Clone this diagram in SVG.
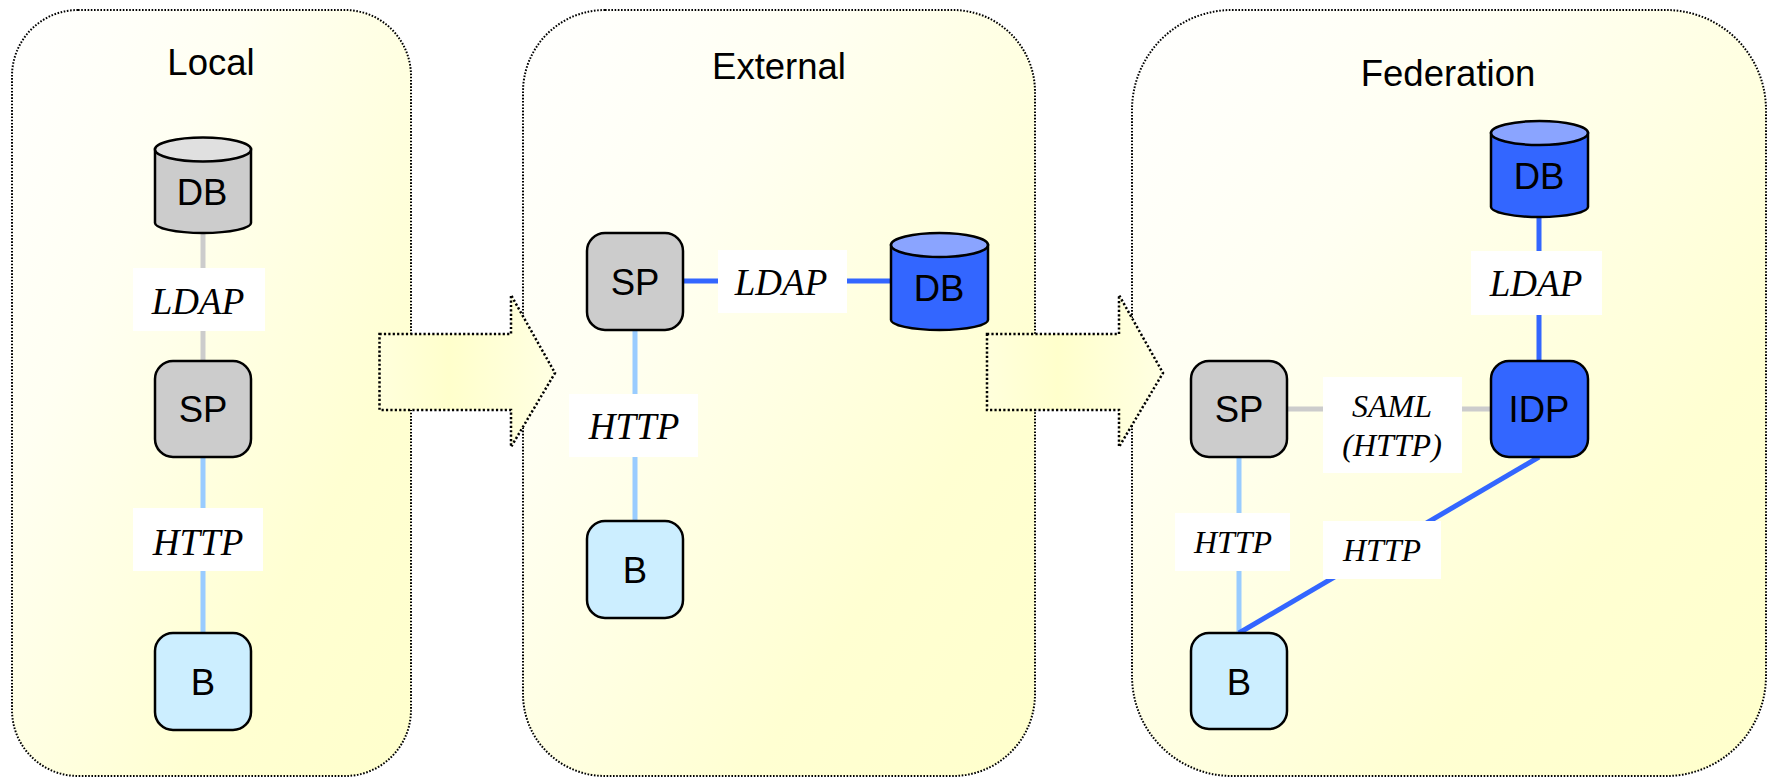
<svg xmlns="http://www.w3.org/2000/svg" width="1771" height="777" viewBox="0 0 1771 777">
<style>
.panel{fill:url(#pg);stroke:#000;stroke-width:2;stroke-dasharray:1.6 1.6}
.arrow{fill:url(#ag);stroke:#000;stroke-width:2.5;stroke-dasharray:2.2 2.2}
.box{stroke:#000;stroke-width:2.5}
.grey{fill:#cccccc}.blue{fill:#3366ff}.light{fill:#cceeff}
.t{font-family:"Liberation Sans",Arial,sans-serif;font-size:36.500px;text-anchor:middle;fill:#000}
.l{font-family:"Liberation Serif","Times New Roman",serif;font-style:italic;font-size:37px;text-anchor:middle;fill:#000}
.s{font-size:32px}
.lab{fill:#fff}
.c{fill:none;stroke-width:5}
.cg{stroke:#cccccc}.cb{stroke:#3366ff}.cl{stroke:#99ccff}
.cap{stroke:#000;stroke-width:2.5}
</style>
<defs>
<linearGradient id="pg" x1="0" y1="0" x2="1" y2="1"><stop offset="0" stop-color="#ffffff"/><stop offset="0.3" stop-color="#fffff2"/><stop offset="0.72" stop-color="#ffffd2"/><stop offset="1" stop-color="#ffffcc"/></linearGradient>
<linearGradient id="ag" x1="0" y1="0" x2="1" y2="0"><stop offset="0" stop-color="#ffffdc"/><stop offset="0.4" stop-color="#ffffcc"/><stop offset="1" stop-color="#ffffe2"/></linearGradient>
</defs>
<rect width="1771" height="777" fill="#fff"/>
<g id="panel-local"><rect class="panel" x="12" y="10" width="399" height="766" rx="66" ry="66"/><text class="t" x="211" y="75">Local</text></g>
<g id="panel-external"><rect class="panel" x="523" y="10" width="512" height="766" rx="82" ry="82"/><text class="t" x="779" y="79">External</text></g>
<g id="panel-federation"><rect class="panel" x="1132" y="10" width="634" height="766" rx="100" ry="100"/><text class="t" x="1448" y="86">Federation</text></g>
<g id="arrow-1"><path class="arrow" d="M379.500 334H511V295L555 373L511 447V410H379.500Z"/></g>
<g id="arrow-2"><path class="arrow" d="M987 334H1119V295L1163 373L1119 447V410H987Z"/></g>
<g id="connectors">
<path class="c cg" d="M203 233V361"/>
<path class="c cl" d="M203 457V633"/>
<path class="c cb" d="M683 281H891"/>
<path class="c cl" d="M635 330V521"/>
<path class="c cb" d="M1539 217V361"/>
<path class="c cg" d="M1287 409H1491"/>
<path class="c cl" d="M1239 457V633"/>
<path class="c cb" d="M1539 457L1239 633"/>
</g>
<g id="label-ldap-1"><rect class="lab" x="133" y="268" width="132" height="63"/><text class="l" x="198" y="314">LDAP</text></g>
<g id="label-http-1"><rect class="lab" x="133" y="508" width="130" height="63"/><text class="l" x="198" y="555">HTTP</text></g>
<g id="label-ldap-2"><rect class="lab" x="718" y="250" width="129" height="63"/><text class="l" x="781" y="295">LDAP</text></g>
<g id="label-http-2"><rect class="lab" x="569" y="394" width="129" height="63"/><text class="l" x="634" y="439">HTTP</text></g>
<g id="label-ldap-3"><rect class="lab" x="1471" y="251" width="131" height="64"/><text class="l" x="1536" y="296">LDAP</text></g>
<g id="label-saml"><rect class="lab" x="1323" y="377" width="139" height="96"/><text class="l s" x="1392" y="417">SAML</text><text class="l s" x="1392" y="456">(HTTP)</text></g>
<g id="label-http-3"><rect class="lab" x="1175" y="513" width="115" height="58"/><text class="l s" x="1233" y="553">HTTP</text></g>
<g id="label-http-4"><rect class="lab" x="1323" y="521" width="118" height="58"/><text class="l s" x="1382" y="561">HTTP</text></g>
<g id="db-local"><path class="box grey" d="M155 149V223C155 228 175 233 203 233S251 228 251 223V149Z"/><ellipse class="cap" fill="#e0e0e0" cx="203" cy="149.500" rx="48" ry="12"/><text class="t" x="202" y="205">DB</text></g>
<g id="sp-local"><rect class="box grey" x="155" y="361" width="96" height="96" rx="18"/><text class="t" x="203" y="422">SP</text></g>
<g id="b-local"><rect class="box light" x="155" y="633" width="96" height="97" rx="18"/><text class="t" x="203" y="695">B</text></g>
<g id="sp-external"><rect class="box grey" x="587" y="233" width="96" height="97" rx="18"/><text class="t" x="635" y="295">SP</text></g>
<g id="db-external"><path class="box blue" d="M891 245V320C891 325 911 330 939.500 330S988 325 988 320V245Z"/><ellipse class="cap" fill="#8aa4ff" cx="939.500" cy="245" rx="48.500" ry="12"/><text class="t" x="939" y="301">DB</text></g>
<g id="b-external"><rect class="box light" x="587" y="521" width="96" height="97" rx="18"/><text class="t" x="635" y="583">B</text></g>
<g id="db-federation"><path class="box blue" d="M1491 133V207C1491 212 1511 217 1539.500 217S1588 212 1588 207V133Z"/><ellipse class="cap" fill="#8aa4ff" cx="1539.500" cy="133" rx="48.500" ry="12"/><text class="t" x="1539" y="189">DB</text></g>
<g id="idp"><rect class="box blue" x="1491" y="361" width="97" height="96" rx="18"/><text class="t" x="1539" y="422">IDP</text></g>
<g id="sp-federation"><rect class="box grey" x="1191" y="361" width="96" height="96" rx="18"/><text class="t" x="1239" y="422">SP</text></g>
<g id="b-federation"><rect class="box light" x="1191" y="633" width="96" height="96" rx="18"/><text class="t" x="1239" y="695">B</text></g>
</svg>
